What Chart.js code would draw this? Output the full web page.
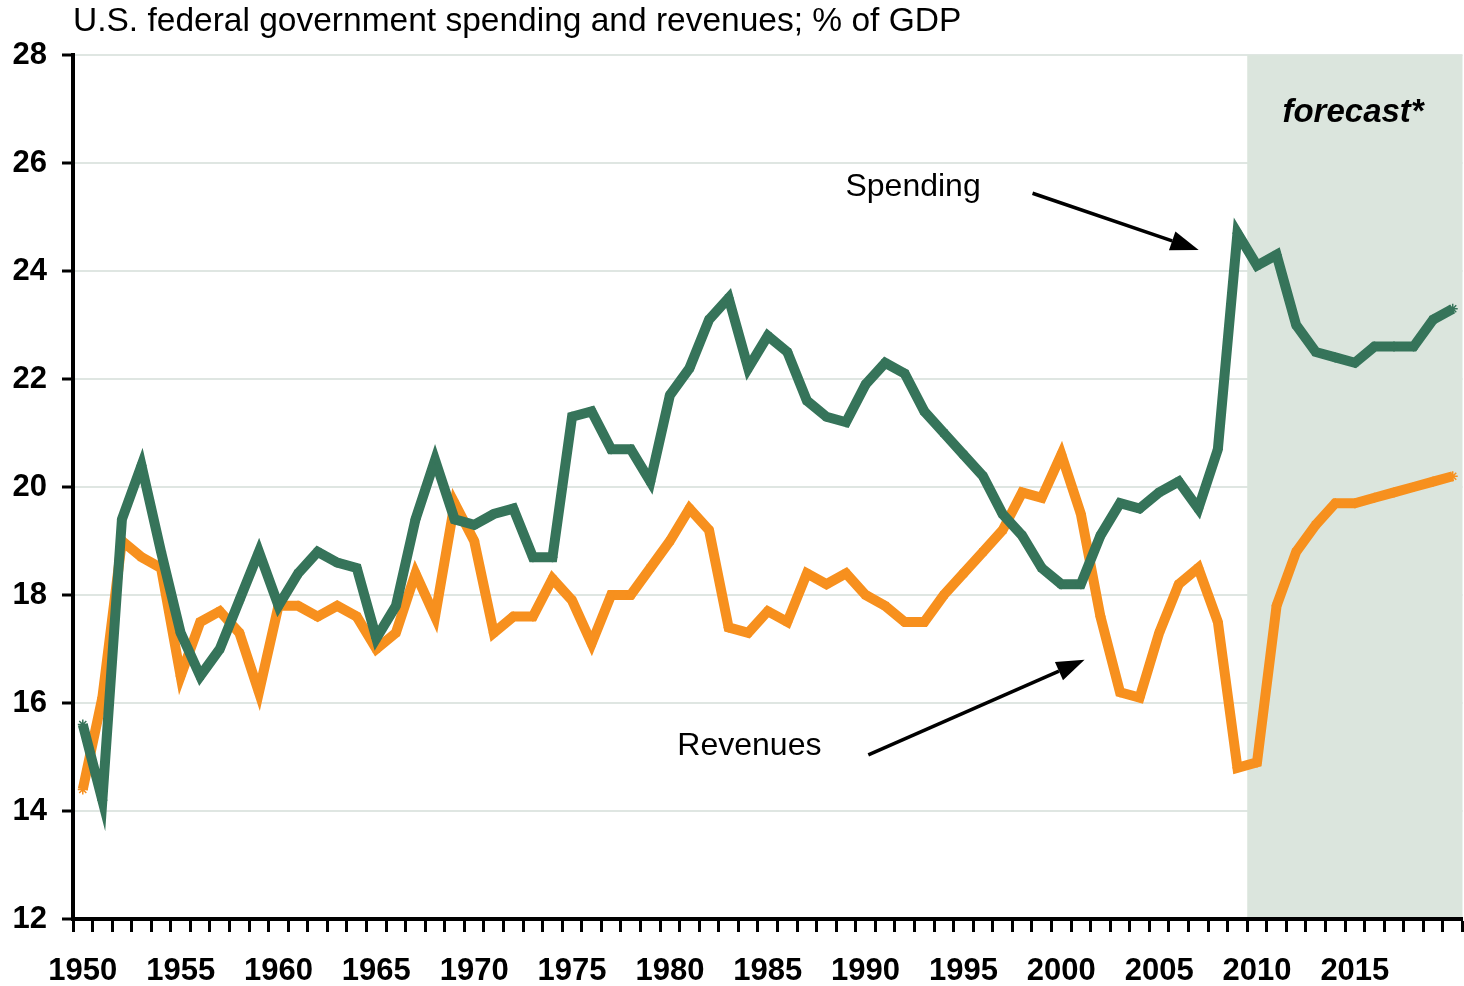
<!DOCTYPE html>
<html>
<head>
<meta charset="utf-8">
<script src="https://cdn.jsdelivr.net/npm/chart.js@4.4.1/dist/chart.umd.min.js"></script>
<style>
  html, body { margin: 0; padding: 0; background: #fff; overflow: hidden; }
  #wrap { width: 1469px; height: 986px; position: relative; }
</style>
</head>
<body>
<div id="wrap"><canvas id="budgetChart"></canvas></div>
<script>
// fiscal years 1950-2020, values in % of GDP
const years = [];
for (let y = 1950; y <= 2020; y++) years.push(String(y));

const spending = [
  15.6, 14.2, 19.4, 20.4, 18.8, 17.3, 16.5, 17.0, 17.9, 18.8,
  17.8, 18.4, 18.8, 18.6, 18.5, 17.2, 17.8, 19.4, 20.5, 19.4,
  19.3, 19.5, 19.6, 18.7, 18.7, 21.3, 21.4, 20.7, 20.7, 20.1,
  21.7, 22.2, 23.1, 23.5, 22.2, 22.8, 22.5, 21.6, 21.3, 21.2,
  21.9, 22.3, 22.1, 21.4, 21.0, 20.6, 20.2, 19.5, 19.1, 18.5,
  18.2, 18.2, 19.1, 19.7, 19.6, 19.9, 20.1, 19.6, 20.7, 24.7,
  24.1, 24.3, 23.0, 22.5, 22.4, 22.3, 22.6, 22.6, 22.6, 23.1, 23.3
];

const revenues = [
  14.4, 16.1, 19.0, 18.7, 18.5, 16.5, 17.5, 17.7, 17.3, 16.2,
  17.8, 17.8, 17.6, 17.8, 17.6, 17.0, 17.3, 18.4, 17.6, 19.7,
  19.0, 17.3, 17.6, 17.6, 18.3, 17.9, 17.1, 18.0, 18.0, 18.5,
  19.0, 19.6, 19.2, 17.4, 17.3, 17.7, 17.5, 18.4, 18.2, 18.4,
  18.0, 17.8, 17.5, 17.5, 18.0, 18.4, 18.8, 19.2, 19.9, 19.8,
  20.6, 19.5, 17.6, 16.2, 16.1, 17.3, 18.2, 18.5, 17.5, 14.8,
  14.9, 17.8, 18.8, 19.3, 19.7, 19.7, 19.8, 19.9, 20.0, 20.1, 20.2
];

const labelledYears = ["1950", "1955", "1960", "1965", "1970", "1975", "1980",
                       "1985", "1990", "1995", "2000", "2005", "2010", "2015"];
const forecastStart = "2010";

const FONT = '"Liberation Sans", Arial, sans-serif';
const GREEN = "#36745a";
const ORANGE = "#f7901e";

function arrow(ctx, x1, y1, x2, y2) {
  const ang = Math.atan2(y2 - y1, x2 - x1);
  const head = 28, half = 10;
  const bx = x2 - head * Math.cos(ang), by = y2 - head * Math.sin(ang);
  ctx.beginPath();
  ctx.moveTo(x1, y1);
  ctx.lineTo(bx, by);
  ctx.lineWidth = 3.5;
  ctx.strokeStyle = "#000";
  ctx.stroke();
  ctx.beginPath();
  ctx.moveTo(x2, y2);
  ctx.lineTo(bx + half * Math.sin(ang), by - half * Math.cos(ang));
  ctx.lineTo(bx - half * Math.sin(ang), by + half * Math.cos(ang));
  ctx.closePath();
  ctx.fillStyle = "#000";
  ctx.fill();
}

const decor = {
  id: "decor",
  beforeDatasetsDraw(chart) {
    const { ctx, chartArea, scales: { x } } = chart;
    const i = years.indexOf(forecastStart);
    const left = (x.getPixelForValue(i - 1) + x.getPixelForValue(i)) / 2;
    ctx.save();
    ctx.fillStyle = "#dbe5dd";
    ctx.fillRect(left, chartArea.top, chartArea.right - left, chartArea.bottom - chartArea.top);
    ctx.restore();
  },
  afterDatasetsDraw(chart) {
    const { ctx, chartArea, scales: { x, y } } = chart;
    const px = (i) => x.getPixelForValue(i);
    ctx.save();
    ctx.fillStyle = "#000";
    ctx.textBaseline = "alphabetic";
    ctx.textAlign = "left";

    // heading above the plot
    ctx.font = "33.5px " + FONT;
    ctx.fillText("U.S. federal government spending and revenues; % of GDP", chartArea.left, 31);

    ctx.font = "bold italic 33px " + FONT;
    ctx.fillText("forecast*", px(61.3), y.getPixelForValue(26.76));

    ctx.font = "32px " + FONT;
    ctx.fillText("Spending", px(38.97), y.getPixelForValue(25.39));
    ctx.fillText("Revenues", px(30.38), y.getPixelForValue(15.04));

    arrow(ctx, px(48.53), y.getPixelForValue(25.44), px(57.02), y.getPixelForValue(24.39));
    arrow(ctx, px(40.14), y.getPixelForValue(15.04), px(51.19), y.getPixelForValue(16.80));
    ctx.restore();
  }
};

new Chart(document.getElementById("budgetChart"), {
  type: "line",
  data: {
    labels: years,
    datasets: [{
      label: "Spending",
      data: spending,
      borderColor: GREEN,
      borderWidth: 10,
      pointStyle: "star",
      pointRadius: 5,
      pointBorderWidth: 1.5,
      pointBorderColor: GREEN,
      pointBackgroundColor: GREEN,
      tension: 0,
    }, {
      label: "Revenues",
      data: revenues,
      borderColor: ORANGE,
      borderWidth: 10,
      pointStyle: "star",
      pointRadius: 5,
      pointBorderWidth: 1.5,
      pointBorderColor: ORANGE,
      pointBackgroundColor: ORANGE,
      tension: 0,
    }],
  },
  options: {
    responsive: true,
    maintainAspectRatio: false,
    animation: false,
    layout: { padding: { top: 55, right: 0, left: 0, bottom: 0 } },
    plugins: {
      legend: { display: false },
      tooltip: { enabled: false },
    },
    scales: {
      x: {
        type: "category",
        offset: true,
        afterFit(scale) {
          scale.height = 67;
          scale.paddingLeft = 0;
          scale.paddingRight = 0;
        },
        grid: {
          offset: true,
          drawOnChartArea: false,
          tickLength: 13,
          tickWidth: 3,
          tickColor: "#000",
        },
        border: { color: "#000", width: 4, z: 1 },
        ticks: {
          autoSkip: false,
          maxRotation: 0,
          padding: 21,
          color: "#000",
          font: { family: FONT, size: 31, weight: "bold" },
          callback(value) {
            const lbl = this.getLabelForValue(value);
            return labelledYears.includes(lbl) ? lbl : "";
          },
        },
      },
      y: {
        min: 12,
        max: 28,
        afterFit(scale) { scale.width = 73; },
        grid: {
          color: "#dfe6e2",
          lineWidth: 2,
          tickLength: 11,
          tickWidth: 3,
          tickColor: "#000",
        },
        border: { color: "#000", width: 4, z: 1 },
        ticks: {
          stepSize: 2,
          padding: 15,
          color: "#000",
          font: { family: FONT, size: 31, weight: "bold" },
        },
      },
    },
  },
  plugins: [decor],
});
</script>
</body>
</html>
